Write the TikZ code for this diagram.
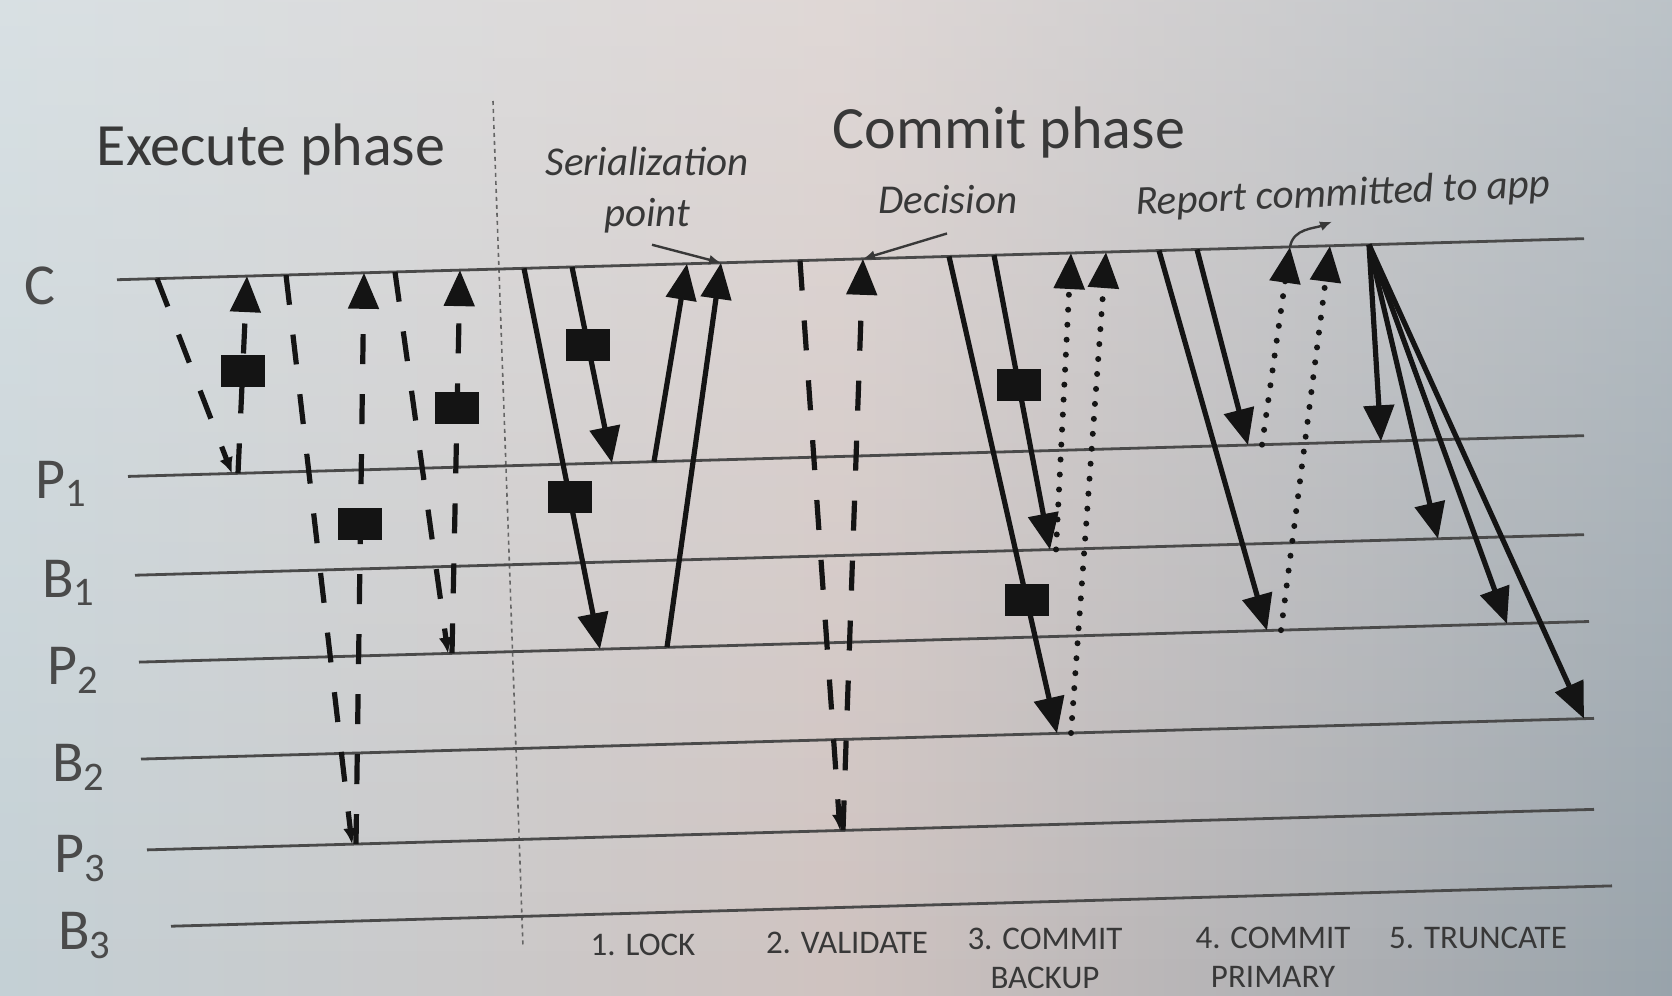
\documentclass[tikz,border=0pt]{standalone}
\usepackage{fontspec}
\setmainfont{Carlito}
\usepackage{tikz}
\usetikzlibrary{arrows.meta, fadings}

\definecolor{ink}{HTML}{141414}
\definecolor{rule}{HTML}{4A4A4A}
\definecolor{txt}{HTML}{383838}
\definecolor{bgl}{HTML}{C4D0D5}
\definecolor{bgm}{HTML}{CFC3C0}
\definecolor{bgr}{HTML}{98A3AB}

\newcommand{\levC}{283}
\newcommand{\levPa}{480}
\newcommand{\levBa}{579}
\newcommand{\levPb}{666}
\newcommand{\levBb}{763}
\newcommand{\levPc}{854}
\newcommand{\levBc}{931}

\begin{document}
\begin{tikzpicture}[
  x=0.5pt, y=-0.5pt,
  tl/.style={draw=rule, line width=1.4pt},
  msg/.style={draw=ink, line width=2.6pt, -{Triangle[length=18pt,width=15pt]}},
  rs/.style={msg, dash pattern=on 15pt off 15pt},
  rd/.style={rs, -{Latex[length=8pt,width=7pt]}},
  ack/.style={msg, line width=3pt, line cap=round, dash pattern=on 0pt off 7.5pt},
  sq/.style={fill=ink, inner sep=0pt, minimum width=22pt, minimum height=16pt},
  sep/.style={draw=rule!85, line width=0.8pt, dash pattern=on 2pt off 2pt},
  ptr/.style={draw=txt, line width=1.2pt, -{Latex[length=6pt,width=5pt]}},
  lab/.style={anchor=base west, inner sep=0pt, text=rule, font=\fontsize{29}{34}\selectfont},
  hd/.style={text=txt, font=\fontsize{30}{36}\selectfont},
  note/.style={text=txt, align=center, font=\fontsize{20.5}{25.5}\selectfont\itshape},
  stp/.style={text=txt, align=center, font=\fontsize{16.5}{19.5}\selectfont}
]
\useasboundingbox (0,0) rectangle (1672,996);
\shade[left color=bgl, right color=bgr, middle color=bgm] (-2,-2) rectangle (1674,998);
\fill[white, opacity=0.35, path fading=south] (-2,-2) rectangle (1674,998);

\node[hd] (exec) at (271,150) {Execute phase};
\node[hd] (commit) at (1009,132) {Commit phase};
\node[note] (ser) at (647,190) {Serialization\\point};
\node[note] (dec) at (948,200) {Decision};
\node[note, rotate=2.5] (rep) at (1343,195) {Report committed to app};

\node[lab] (lC) at (24,304) {C};
\node[lab] (lP1) at (35,498) {P\textsubscript{1}};
\node[lab] (lB1) at (42,597) {B\textsubscript{1}};
\node[lab] (lP2) at (47,684) {P\textsubscript{2}};
\node[lab] (lB2) at (52,781) {B\textsubscript{2}};
\node[lab] (lP3) at (54,872) {P\textsubscript{3}};
\node[lab] (lB3) at (58,949) {B\textsubscript{3}};

\node[stp] (k1) at (643,945) {1. LOCK};
\node[stp] (k2) at (847,943) {2. VALIDATE};
\node[stp] (k3) at (1045,958) {3. COMMIT\\BACKUP};
\node[stp] (k4) at (1273,957) {4. COMMIT\\PRIMARY};
\node[stp] (k5) at (1478,938) {5. TRUNCATE};

\coordinate (sep-t) at (493,101);
\coordinate (sep-b) at (523,947);
\draw[sep] (sep-t) -- (sep-b);

\begin{scope}[yslant=0.028]
\coordinate (C-l) at (117,\levC);   \coordinate (C-r) at (1584,\levC);
\coordinate (P1-l) at (128,\levPa); \coordinate (P1-r) at (1584,\levPa);
\coordinate (B1-l) at (135,\levBa); \coordinate (B1-r) at (1584,\levBa);
\coordinate (P2-l) at (139,\levPb); \coordinate (P2-r) at (1589,\levPb);
\coordinate (B2-l) at (141,\levBb); \coordinate (B2-r) at (1594,\levBb);
\coordinate (P3-l) at (147,\levPc); \coordinate (P3-r) at (1594,\levPc);
\coordinate (B3-l) at (171,\levBc); \coordinate (B3-r) at (1612,\levBc);

\draw[tl] (C-l) -- (C-r);
\draw[tl] (P1-l) -- (P1-r);
\draw[tl] (B1-l) -- (B1-r);
\draw[tl] (P2-l) -- (P2-r);
\draw[tl] (B2-l) -- (B2-r);
\draw[tl] (P3-l) -- (P3-r);
\draw[tl] (B3-l) -- (B3-r);

\coordinate (e1a) at (157,\levC);  \coordinate (e1b) at (232,\levPa);
\coordinate (e1c) at (238,\levPa); \coordinate (e1d) at (247,\levC);
\coordinate (e2a) at (286,\levC);  \coordinate (e2b) at (352,\levPc);
\coordinate (e2c) at (356,\levPc); \coordinate (e2d) at (364,\levC);
\coordinate (e3a) at (395,\levC);  \coordinate (e3b) at (448,\levPb);
\coordinate (e3c) at (452,\levPb); \coordinate (e3d) at (460,\levC);

\draw[rd] (e1a) -- (e1b);
\draw[rs] (e1c) -- node[sq, pos=0.52] (sq-e1) {} (e1d);
\draw[rd] (e2a) -- (e2b);
\draw[rs] (e2c) -- node[sq, pos=0.56] (sq-e2) {} (e2d);
\draw[rd] (e3a) -- (e3b);
\draw[rs] (e3c) -- node[sq, pos=0.64] (sq-e3) {} (e3d);

\coordinate (l1a) at (524,\levC); \coordinate (l1b) at (600,\levPb);
\coordinate (l2a) at (572,\levC); \coordinate (l2b) at (612,\levPa);
\coordinate (l2c) at (654,\levPa); \coordinate (l2d) at (687,\levC);
\coordinate (l1c) at (667,\levPb); \coordinate (l1d) at (721,\levC);
\coordinate (sp) at (652,263);

\draw[msg] (l1a) -- node[sq, pos=0.60] (sq-l1) {} (l1b);
\draw[msg] (l2a) -- node[sq, pos=0.40] (sq-l2) {} (l2b);
\draw[msg] (l2c) -- (l2d);
\draw[msg] (l1c) -- (l1d);
\draw[ptr] (sp) -- (l1d);

\coordinate (v1a) at (800,\levC); \coordinate (v1b) at (840,\levPc);
\coordinate (v1c) at (843,\levPc); \coordinate (v1d) at (863,\levC);
\coordinate (dp) at (947,260);

\draw[rd] (v1a) -- (v1b);
\draw[rs] (v1c) -- (v1d);
\draw[ptr] (dp) -- (v1d);

\coordinate (b2a) at (949,\levC);  \coordinate (b2b) at (1057,\levBb);
\coordinate (b1a) at (994,\levC);  \coordinate (b1b) at (1050,\levBa);
\coordinate (b1c) at (1056,\levBa); \coordinate (b1d) at (1071,\levC);
\coordinate (b2c) at (1071,\levBb); \coordinate (b2d) at (1106,\levC);

\draw[msg] (b2a) -- node[sq, pos=0.72] (sq-b2) {} (b2b);
\draw[msg] (b1a) -- node[sq, pos=0.44] (sq-b1) {} (b1b);
\draw[ack] (b1c) -- (b1d);
\draw[ack] (b2c) -- (b2d);

\coordinate (p2a) at (1159,\levC); \coordinate (p2b) at (1267,\levPb);
\coordinate (p1a) at (1197,\levC); \coordinate (p1b) at (1248,\levPa);
\coordinate (p1c) at (1262,\levPa); \coordinate (p1d) at (1290,\levC);
\coordinate (p2c) at (1281,\levPb); \coordinate (p2d) at (1330,\levC);
\coordinate (rp) at (1332,259);

\draw[msg] (p2a) -- (p2b);
\draw[msg] (p1a) -- (p1b);
\draw[ack] (p1c) -- (p1d);
\draw[ack] (p2c) -- (p2d);
\draw[ptr] (p1d) to[out=80, in=200] (rp);

\coordinate (t0) at (1369,\levC);
\coordinate (t1) at (1381,\levPa);
\coordinate (t2) at (1438,\levBa);
\coordinate (t3) at (1507,\levPb);
\coordinate (t4) at (1584,\levBb);

\draw[msg] (t0) -- (t1);
\draw[msg] (t0) -- (t2);
\draw[msg] (t0) -- (t3);
\draw[msg] (t0) -- (t4);
\end{scope}
\end{tikzpicture}
\end{document}
